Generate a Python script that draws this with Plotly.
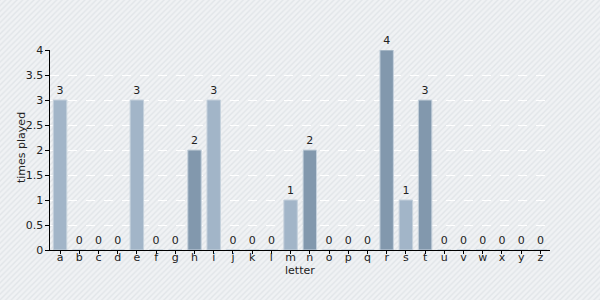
import plotly.graph_objects as go

letters = list("abcdefghijklmnopqrstuvwxyz")
times_played = [3, 0, 0, 0, 3, 0, 0, 2, 3, 0, 0, 0, 1, 2, 0, 0, 0, 4, 1, 3, 0, 0, 0, 0, 0, 0]
dark_letters = {"h", "n", "r", "t"}
y_ticks = [0, 0.5, 1, 1.5, 2, 2.5, 3, 3.5, 4]

LIGHT = "#a2b5c8"
DARK = "#8298ad"
colors = [DARK if l in dark_letters else LIGHT for l in letters]
font = "DejaVu Sans, Verdana, sans-serif"

fig = go.Figure()

# striped background over the whole figure
fig.add_trace(go.Scatter(
    x=[0, 1, 1, 0, 0], y=[0, 0, 1, 1, 0], mode="lines", fill="toself",
    line=dict(width=0), fillcolor="#eef0f2",
    fillpattern=dict(shape="/", bgcolor="#f0f2f4", fgcolor="#d2d7dc", size=4, solidity=0.35),
    hoverinfo="skip", showlegend=False, xaxis="x", yaxis="y"))

fig.add_trace(go.Bar(
    x=letters, y=times_played, text=[str(v) for v in times_played],
    textposition="outside", cliponaxis=False,
    textfont=dict(family=font, size=11, color="#222222"),
    marker=dict(color=colors, line=dict(color="#c5d1dc", width=1)),
    width=0.7, showlegend=False, xaxis="x2", yaxis="y2"))

fig.update_layout(
    width=600, height=300,
    margin=dict(l=0, r=0, t=0, b=0, pad=0, autoexpand=False),
    paper_bgcolor="#f0f2f4", plot_bgcolor="rgba(0,0,0,0)",
    font=dict(family=font, size=11, color="#222222"),
    xaxis=dict(domain=[0, 1], range=[0, 1], visible=False, fixedrange=True, automargin=False),
    yaxis=dict(domain=[0, 1], range=[0, 1], visible=False, fixedrange=True, automargin=False),
    xaxis2=dict(domain=[50.4 / 600, 550 / 600], anchor="y2", automargin=False,
                categoryorder="array", categoryarray=letters,
                range=[-0.5, 25.5],
                showline=True, linecolor="#000000", linewidth=1,
                ticks="outside", ticklen=3, tickcolor="#000000",
                ticklabelstandoff=-6,
                showgrid=False, zeroline=False,
                tickfont=dict(size=11)),
    yaxis2=dict(domain=[50 / 300, 250 / 300], anchor="x2", automargin=False,
                range=[0, 4], tickvals=y_ticks, ticktext=[f"{v:g}" for v in y_ticks],
                showline=True, linecolor="#000000", linewidth=1,
                ticks="outside", ticklen=4, tickcolor="#000000",
                showgrid=True, gridcolor="#ffffff", griddash="dash", gridwidth=1,
                zeroline=False,
                tickfont=dict(size=11)),
    annotations=[
        dict(text="letter", xref="paper", yref="paper", x=0.5, y=1 - 270 / 300,
             showarrow=False, xanchor="center", yanchor="middle", font=dict(size=11)),
        dict(text="times played", xref="paper", yref="paper", x=21 / 600, y=1 - 148 / 300,
             showarrow=False, textangle=-90, xanchor="center", yanchor="middle",
             font=dict(size=11)),
    ],
)

fig.write_html("out.html")
